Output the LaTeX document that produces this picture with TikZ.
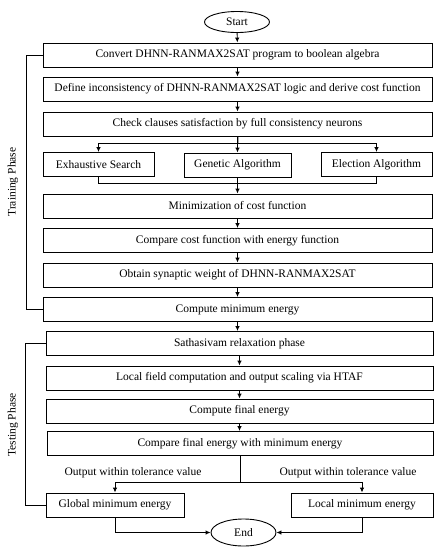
\documentclass[tikz,border=0pt]{standalone}
\usepackage{fontspec}
\setmainfont{Liberation Serif}
\usetikzlibrary{arrows.meta, shapes.geometric}

\begin{document}
\begin{tikzpicture}[x = 1pt, y = -1pt, line width = 0.9pt, font = \fontsize{11.5}{13}\selectfont,
	box/.style = {rectangle, draw = black, minimum height = 24pt, inner sep = 2pt},
	wide/.style = {box, minimum width = 389pt},
	oval/.style = {ellipse, draw = black, minimum width = 65pt, minimum height = 21pt, inner sep = 1pt},
	arr/.style = {-{Latex[length = 5pt, width = 4.5pt]}}]

	\useasboundingbox (0, 0) rectangle (440, 550);

	\node [oval] (start) at (237, 22) {Start};
	\node [wide] (convert) at (237.5, 55) {Convert DHNN-RANMAX2SAT program to boolean algebra};
	\node [wide] (define) at (237.5, 89) {Define inconsistency of DHNN-RANMAX2SAT logic and derive cost function};
	\node [wide] (check) at (237.5, 124) {Check clauses satisfaction by full consistency neurons};

	\node [box, minimum width = 111pt] (exhaustive) at (98.5, 164.5) {Exhaustive Search};
	\node [box, minimum width = 107pt] (genetic) at (237.5, 165) {Genetic Algorithm};
	\node [box, minimum width = 111pt] (election) at (376.5, 164.5) {Election Algorithm};

	\node [wide] (minimize) at (237.5, 206) {Minimization of cost function};
	\node [wide] (compare) at (237.5, 240.5) {Compare cost function with energy function};
	\node [wide] (weight) at (237.5, 275) {Obtain synaptic weight of DHNN-RANMAX2SAT};
	\node [wide] (minenergy) at (237.5, 309.5) {Compute minimum energy};

	\node [box, minimum width = 387pt] (relax) at (239.5, 343.5) {Sathasivam relaxation phase};
	\node [box, minimum width = 387pt] (localfield) at (239.5, 378) {Local field computation and output scaling via HTAF};
	\node [box, minimum width = 387pt] (final) at (239.5, 411) {Compute final energy};
	\node [box, minimum width = 386pt] (comparefinal) at (240, 443.5) {Compare final energy with minimum energy};

	\node [box, minimum width = 138pt] (global) at (115, 505) {Global minimum energy};
	\node [box, minimum width = 142pt] (localmin) at (362, 505) {Local minimum energy};
	\node [oval, minimum height = 27pt] (end) at (243.5, 532.5) {End};

	\node (leftlabel) at (133, 473) {Output within tolerance value};
	\node (rightlabel) at (348, 473) {Output within tolerance value};
	\node [rotate = 90] (training) at (13, 182) {Training Phase};
	\node [rotate = 90] (testing) at (13, 425) {Testing Phase};

	\coordinate (split) at (238, 143);
	\coordinate (join) at (238, 183);
	\coordinate (fork) at (240, 482);
	\coordinate (trainbar) at (26, 0);
	\coordinate (testbar) at (25, 0);

	\draw [arr] (start) -- (convert);
	\draw [arr] (convert) -- (define);
	\draw [arr] (define) -- (check);
	\draw (check) -- (split);
	\draw (exhaustive |- split) -- (election |- split);
	\draw [arr] (exhaustive |- split) -- (exhaustive);
	\draw [arr] (check) -- (genetic);
	\draw [arr] (election |- split) -- (election);
	\draw (exhaustive) -- (exhaustive |- join) -- (election |- join) -- (election);
	\draw [arr] (genetic) -- (minimize);
	\draw [arr] (minimize) -- (compare);
	\draw [arr] (compare) -- (weight);
	\draw [arr] (weight) -- (minenergy);
	\draw [arr] (minenergy.south) -- (minenergy.south |- relax.north);
	\draw [arr] (relax.south) -- (relax.south |- localfield.north);
	\draw [arr] (localfield) -- (final);
	\draw [arr] (final.south) -- (final.south |- comparefinal.north);
	\draw (comparefinal.south) -- (comparefinal.south |- fork);
	\draw (global |- fork) -- (localmin |- fork);
	\draw [arr] (global |- fork) -- (global);
	\draw [arr] (localmin |- fork) -- (localmin);
	\draw [arr] (global) |- (end);
	\draw [arr] (localmin) |- (end);

	\draw (convert.west) -- (convert.west -| trainbar) -- (minenergy.west -| trainbar) -- (minenergy.west);
	\draw (relax.west) -- (relax.west -| testbar) -- (global.west -| testbar) -- (global.west);

\end{tikzpicture}
\end{document}
